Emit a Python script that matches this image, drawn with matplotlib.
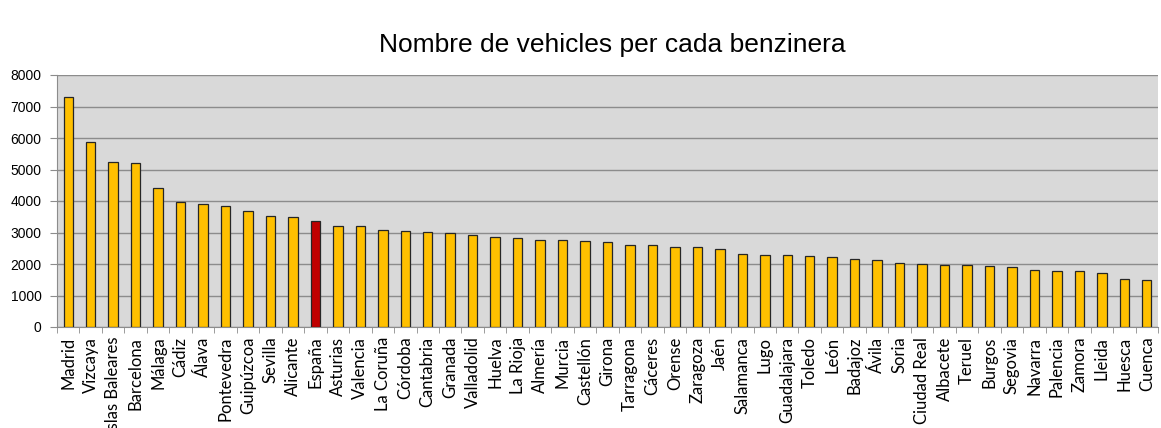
import matplotlib.pyplot as plt
import numpy as np

# Data
provincies = ["Madrid", "Vizcaya", "Islas Baleares", "Barcelona", "Málaga", "Cádiz",
              "Álava", "Pontevedra", "Guipúzcoa", "Sevilla", "Alicante", "España",
              "Asturias", "Valencia", "La Coruña", "Córdoba", "Cantabria", "Granada",
              "Valladolid", "Huelva", "La Rioja", "Almería", "Murcia", "Castellón",
              "Girona", "Tarragona", "Cáceres", "Orense", "Zaragoza", "Jaén",
              "Salamanca", "Lugo", "Guadalajara", "Toledo", "León", "Badajoz",
              "Ávila", "Soria", "Ciudad Real", "Albacete", "Teruel", "Burgos",
              "Segovia", "Navarra", "Palencia", "Zamora", "Lleida", "Huesca", "Cuenca"]
vehicles = [7310, 5860, 5250, 5220, 4400, 3970, 3890, 3850, 3690, 3530, 3490, 3360,
            3220, 3210, 3080, 3050, 3020, 2980, 2920, 2850, 2810, 2760, 2750, 2730,
            2710, 2610, 2600, 2530, 2530, 2480, 2330, 2300, 2280, 2240, 2210, 2160,
            2120, 2030, 2000, 1970, 1960, 1940, 1890, 1820, 1790, 1770, 1730, 1530, 1490]
yticks = [0, 1000, 2000, 3000, 4000, 5000, 6000, 7000, 8000]

colors = ["#C00000" if p == "España" else "#FFC000" for p in provincies]

fig = plt.figure(figsize=(11.61, 4.28), dpi=100)
ax = fig.add_axes([57 / 1161, 101 / 428, 1101 / 1161, 252 / 428])
ax.set_facecolor("#D9D9D9")

x = np.arange(len(provincies))
ax.bar(x, vehicles, width=0.42, color=colors, edgecolor="#262626", linewidth=0.9, zorder=3)

ax.set_xlim(-0.5, len(provincies) - 0.5)
ax.set_ylim(0, 8000)
ax.set_yticks(yticks)
ax.set_yticklabels([str(v) for v in yticks], fontsize=10, family="Liberation Sans")
ax.yaxis.grid(True, color="#8C8C8C", linewidth=1.0, zorder=1)

# x ticks: labels centred on bars, tick marks between categories
ax.set_xticks(x)
ax.set_xticklabels(provincies, rotation=90, fontsize=12, family="Lato")
ax.tick_params(axis="x", length=0, pad=7)
ax.set_xticks(np.arange(-0.5, len(provincies), 1), minor=True)
ax.tick_params(axis="x", which="minor", length=4, color="#8C8C8C")
ax.tick_params(axis="y", length=5, color="#8C8C8C", pad=6)

for side in ["top", "right"]:
    ax.spines[side].set_visible(False)
for side in ["left", "bottom"]:
    ax.spines[side].set_color("#8C8C8C")

fig.text(0.527, 0.895, "Nombre de vehicles per cada benzinera", ha="center", va="center",
         fontsize=19, family="Liberation Sans")

plt.savefig("out.png", dpi=100)
